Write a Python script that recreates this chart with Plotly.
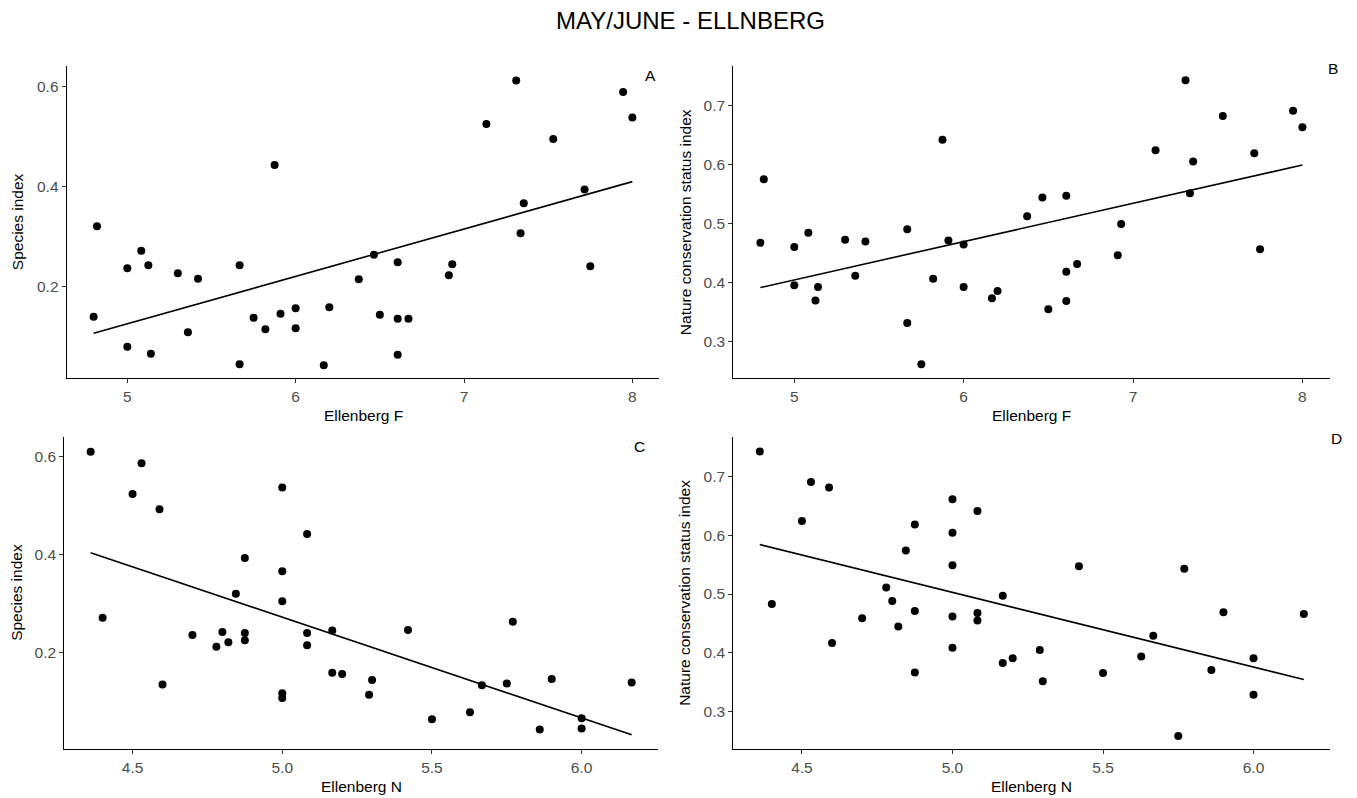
import plotly.graph_objects as go

# ---------------- data ----------------
ellenberg_F = [4.80, 4.82, 5.00, 5.00, 5.083, 5.125, 5.14, 5.30, 5.36, 5.42,
               5.667, 5.667, 5.75, 5.82, 5.875, 5.91, 6.00, 6.00, 6.167, 6.20,
               6.375, 6.465, 6.50, 6.606, 6.606, 6.606, 6.67, 6.91, 6.93, 7.133,
               7.31, 7.336, 7.355, 7.53, 7.716, 7.75, 7.945, 8.00]
species_A = [0.140, 0.321, 0.237, 0.080, 0.272, 0.243, 0.066, 0.227, 0.109, 0.216,
             0.243, 0.045, 0.138, 0.115, 0.443, 0.146, 0.157, 0.117, 0.043, 0.159,
             0.215, 0.264, 0.144, 0.249, 0.136, 0.064, 0.136, 0.223, 0.245, 0.525,
             0.612, 0.307, 0.367, 0.495, 0.394, 0.241, 0.589, 0.538]
ncs_B = [0.467, 0.575, 0.460, 0.395, 0.484, 0.369, 0.392, 0.472, 0.411, 0.469,
         0.490, 0.331, 0.261, 0.406, 0.642, 0.471, 0.464, 0.392, 0.373, 0.385,
         0.512, 0.544, 0.354, 0.547, 0.418, 0.368, 0.431, 0.446, 0.499, 0.624,
         0.743, 0.551, 0.605, 0.682, 0.619, 0.456, 0.691, 0.663]

ellenberg_N = [4.36, 4.40, 4.50, 4.53, 4.59, 4.60, 4.70, 4.78, 4.80, 4.82,
               4.845, 4.875, 4.875, 4.875, 5.00, 5.00, 5.00, 5.00, 5.00, 5.083,
               5.083, 5.083, 5.167, 5.167, 5.20, 5.29, 5.30, 5.42, 5.50, 5.627,
               5.667, 5.75, 5.77, 5.86, 5.90, 6.00, 6.00, 6.167]
species_C = [0.610, 0.271, 0.524, 0.587, 0.493, 0.135, 0.236, 0.212, 0.242, 0.221,
             0.320, 0.393, 0.240, 0.225, 0.537, 0.366, 0.305, 0.117, 0.107, 0.442,
             0.240, 0.215, 0.245, 0.159, 0.156, 0.114, 0.144, 0.246, 0.064, 0.078,
             0.133, 0.137, 0.263, 0.043, 0.146, 0.066, 0.045, 0.139]
ncs_D = [0.742, 0.483, 0.624, 0.690, 0.681, 0.417, 0.459, 0.511, 0.488, 0.445,
         0.574, 0.618, 0.471, 0.367, 0.661, 0.604, 0.549, 0.462, 0.409, 0.641,
         0.468, 0.455, 0.497, 0.383, 0.391, 0.405, 0.352, 0.547, 0.366, 0.394,
         0.429, 0.259, 0.543, 0.371, 0.469, 0.391, 0.329, 0.466]

# fitted regression lines (end points)
fit_F_x = [4.80, 8.00]
fit_species_F = [0.107, 0.410]
fit_ncs_F = [0.391, 0.599]
fit_N_x = [4.36, 6.167]
fit_species_N = [0.404, 0.032]
fit_ncs_N = [0.584, 0.355]

# tick labels
F_ticks = [5, 6, 7, 8]
F_ticktext = ["5", "6", "7", "8"]
N_ticks = [4.5, 5.0, 5.5, 6.0]
N_ticktext = ["4.5", "5.0", "5.5", "6.0"]
species_ticks = [0.2, 0.4, 0.6]
species_ticktext = ["0.2", "0.4", "0.6"]
ncs_ticks = [0.3, 0.4, 0.5, 0.6, 0.7]
ncs_ticktext = ["0.3", "0.4", "0.5", "0.6", "0.7"]

title_text = "MAY/JUNE - ELLNBERG"
panel_letters = ["A", "B", "C", "D"]
x_titles = ["Ellenberg F", "Ellenberg F", "Ellenberg N", "Ellenberg N"]
y_titles = ["Species index", "Nature conservation status index",
            "Species index", "Nature conservation status index"]

# ---------------- figure ----------------
W, H = 1357, 798
FONT = "Liberation Sans, Arial, sans-serif"


def px(x):
    return x / W


def py(y):
    return 1 - y / H


panels = [
    dict(x=ellenberg_F, y=species_A, fx=fit_F_x, fy=fit_species_F,
         xdom=[66.7, 659.3], ydom=[66.0, 378.3], xr=[4.64, 8.16], yr=[0.017, 0.641],
         xt=(F_ticks, F_ticktext), yt=(species_ticks, species_ticktext),
         letter=(650, 75), ytitle_x=17),
    dict(x=ellenberg_F, y=ncs_B, fx=fit_F_x, fy=fit_ncs_F,
         xdom=[733.3, 1329.5], ydom=[66.0, 378.3], xr=[4.64, 8.16], yr=[0.237, 0.767],
         xt=(F_ticks, F_ticktext), yt=(ncs_ticks, ncs_ticktext),
         letter=(1333, 69), ytitle_x=685),
    dict(x=ellenberg_N, y=species_C, fx=fit_N_x, fy=fit_species_N,
         xdom=[64.3, 657.7], ydom=[436.7, 749.0], xr=[4.272, 6.254], yr=[0.003, 0.641],
         xt=(N_ticks, N_ticktext), yt=(species_ticks, species_ticktext),
         letter=(639, 446), ytitle_x=17),
    dict(x=ellenberg_N, y=ncs_D, fx=fit_N_x, fy=fit_ncs_N,
         xdom=[733.3, 1330.0], ydom=[436.7, 749.0], xr=[4.272, 6.254], yr=[0.237, 0.767],
         xt=(N_ticks, N_ticktext), yt=(ncs_ticks, ncs_ticktext),
         letter=(1336, 438), ytitle_x=685),
]

fig = go.Figure()
annotations = []
layout = {}

for i, p in enumerate(panels, start=1):
    sfx = "" if i == 1 else str(i)
    xa, ya = "x" + sfx, "y" + sfx
    fig.add_trace(go.Scatter(x=p["x"], y=p["y"], mode="markers",
                             marker=dict(color="black", size=8),
                             xaxis=xa, yaxis=ya, showlegend=False,
                             hoverinfo="x+y"))
    fig.add_trace(go.Scatter(x=p["fx"], y=p["fy"], mode="lines",
                             line=dict(color="black", width=1.6),
                             xaxis=xa, yaxis=ya, showlegend=False,
                             hoverinfo="skip"))
    axis_common = dict(showline=True, linecolor="black", linewidth=1.1,
                       ticks="outside", ticklen=4, tickwidth=1.1, tickcolor="#333333",
                       showgrid=False, zeroline=False, mirror=False,
                       tickfont=dict(family=FONT, size=15.5, color="#4D4D4D"))
    layout["xaxis" + sfx] = dict(axis_common, domain=[px(p["xdom"][0]), px(p["xdom"][1])],
                                 range=p["xr"], anchor=ya,
                                 tickvals=p["xt"][0], ticktext=p["xt"][1])
    layout["yaxis" + sfx] = dict(axis_common, domain=[py(p["ydom"][1]), py(p["ydom"][0])],
                                 range=p["yr"], anchor=xa,
                                 tickvals=p["yt"][0], ticktext=p["yt"][1])
    # axis titles
    annotations.append(dict(text=x_titles[i - 1], xref="paper", yref="paper",
                            x=px((p["xdom"][0] + p["xdom"][1]) / 2),
                            y=py(p["ydom"][1] + 37.5), xanchor="center", yanchor="middle",
                            showarrow=False, font=dict(family=FONT, size=15.5, color="black")))
    annotations.append(dict(text=y_titles[i - 1], xref="paper", yref="paper",
                            x=px(p["ytitle_x"]),
                            y=py((p["ydom"][0] + p["ydom"][1]) / 2), xanchor="center",
                            yanchor="middle", textangle=-90,
                            showarrow=False, font=dict(family=FONT, size=15.5, color="black")))
    # panel letter
    annotations.append(dict(text=panel_letters[i - 1], xref="paper", yref="paper",
                            x=px(p["letter"][0]), y=py(p["letter"][1]),
                            xanchor="center", yanchor="middle", showarrow=False,
                            font=dict(family=FONT, size=15.5, color="black")))

annotations.append(dict(text=title_text, xref="paper", yref="paper",
                        x=px(690), y=py(21), xanchor="center", yanchor="middle",
                        showarrow=False, font=dict(family=FONT, size=24, color="black")))

fig.update_layout(**layout)
fig.update_layout(width=W, height=H, margin=dict(l=0, r=0, t=0, b=0),
                  paper_bgcolor="white", plot_bgcolor="white",
                  annotations=annotations, showlegend=False,
                  font=dict(family=FONT))

fig.write_html("out.html")
